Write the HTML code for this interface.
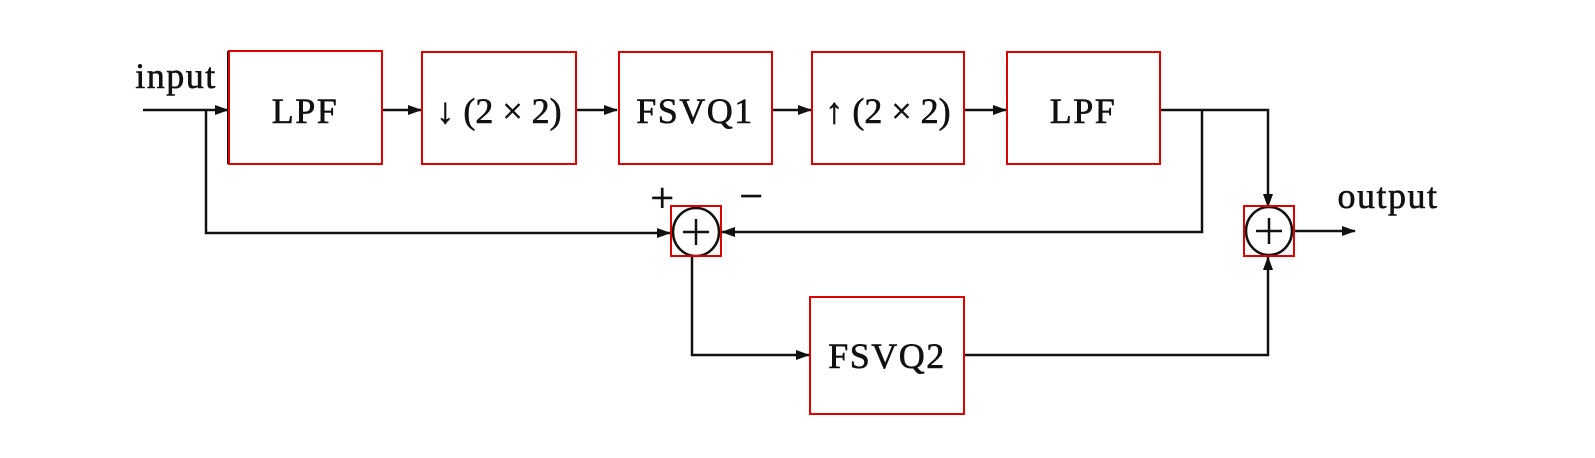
<!DOCTYPE html>
<html><head><style>body{margin:0;background:#fff}svg{display:block}</style></head><body>
<svg width="1595" height="458" viewBox="0 0 1595 458" xmlns="http://www.w3.org/2000/svg">
<defs><marker id="a" markerWidth="14" markerHeight="10" refX="13" refY="5" orient="auto" markerUnits="userSpaceOnUse"><path d="M0,0 L14,5 L0,10 z" fill="#111"/></marker></defs>
<g fill="none" stroke="#111" stroke-width="2.5">
<rect x="227" y="51" width="2" height="113" fill="#111" stroke="none"/>
<line x1="143" y1="110" x2="228" y2="110" marker-end="url(#a)"/>
<polyline points="206,110 206,233 670,233" marker-end="url(#a)"/>
<line x1="382" y1="110" x2="421" y2="110" marker-end="url(#a)"/>
<line x1="576" y1="110" x2="617" y2="110" marker-end="url(#a)"/>
<line x1="772" y1="110" x2="811" y2="110" marker-end="url(#a)"/>
<line x1="964" y1="110" x2="1006" y2="110" marker-end="url(#a)"/>
<polyline points="1160,110 1268,110 1268,207" marker-end="url(#a)"/>
<polyline points="1202,110 1202,232 722,232" marker-end="url(#a)"/>
<polyline points="692,256 692,355 809,355" marker-end="url(#a)"/>
<polyline points="964,355 1268,355 1268,257" marker-end="url(#a)"/>
<line x1="1294" y1="231" x2="1355" y2="231" marker-end="url(#a)"/>
<ellipse cx="696" cy="232" rx="23" ry="24"/>
<ellipse cx="1269" cy="231" rx="23" ry="24"/>
<line x1="696" y1="219" x2="696" y2="245"/><line x1="683" y1="232" x2="709" y2="232"/>
<line x1="1269" y1="218" x2="1269" y2="244"/><line x1="1256" y1="231" x2="1282" y2="231"/>
</g>
<g fill="#fff" stroke="#d00" stroke-width="2">
<rect x="229" y="51" width="153" height="113"/>
<rect x="422" y="52" width="154" height="112"/>
<rect x="619" y="52" width="153" height="112"/>
<rect x="812" y="52" width="152" height="112"/>
<rect x="1007" y="52" width="153" height="112"/>
<rect x="810" y="297" width="154" height="117"/>
<rect x="671" y="206" width="50" height="50" fill="none"/>
<rect x="1244" y="206" width="50" height="50" fill="none"/>
</g>
<g font-family="Liberation Serif, serif" font-size="36" fill="#111" text-anchor="middle" stroke="#111" stroke-width="0.6" letter-spacing="1.5">
<text x="305" y="123">LPF</text>
<text x="499" y="123" letter-spacing="0">↓ (2 × 2)</text>
<text x="695" y="123">FSVQ1</text>
<text x="888" y="123" letter-spacing="0">↑ (2 × 2)</text>
<text x="1083" y="123">LPF</text>
<text x="887" y="368">FSVQ2</text>
<text x="176" y="88">input</text>
<text x="1388" y="208">output</text>
<text x="663" y="212" font-size="42">+</text>
<text x="752" y="210" font-size="42">−</text>
</g>
</svg>
</body></html>
